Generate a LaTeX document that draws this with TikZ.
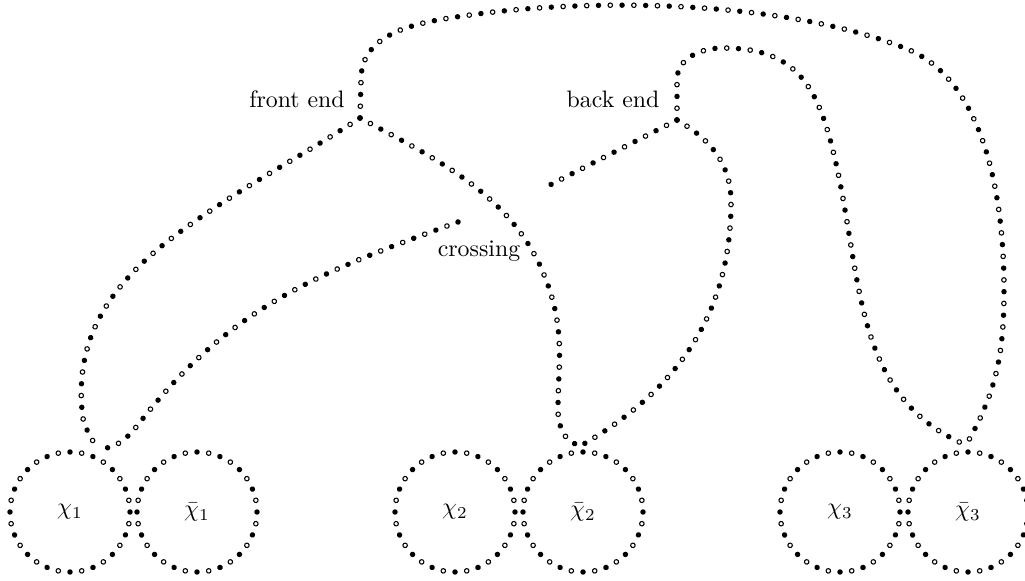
\documentclass[tikz,border=0pt]{standalone}
\usepackage{amsmath}
\usepackage{tikz}
\usetikzlibrary{decorations.markings}

\tikzset{
  beads/.style={
    postaction={decorate, decoration={markings,
      mark=between positions 0 and 1 step 9.9pt with {\fill (0,0) circle[radius=1.15pt];}}},
    postaction={decorate, decoration={markings,
      mark=between positions 4.95pt and 1 step 9.9pt with {\draw[line width=0.45pt] (0,0) circle[radius=0.95pt];}}}},
  ring/.style={
    postaction={decorate, decoration={markings,
      mark=between positions 0 and 0.99 step 0.0625 with {\fill (0,0) circle[radius=1.15pt];}}},
    postaction={decorate, decoration={markings,
      mark=between positions 0.03125 and 1 step 0.0625 with {\draw[line width=0.45pt] (0,0) circle[radius=0.95pt];}}}},
}

\begin{document}
\begin{tikzpicture}[x=0.42pt,y=0.42pt]
\useasboundingbox (0,0) rectangle (1025,580);
\coordinate (fe) at (360,462);
\coordinate (be) at (677,460);
\coordinate (m1) at (97,131);
\coordinate (m2) at (582,135);
\coordinate (m3) at (966,135);
\coordinate (c1) at (546,393);
\coordinate (c2) at (458,358);
% labels the rings
\node (x1) at (70,68) {$\chi_1$};
\node (y1) at (197,68) {$\bar{\chi}_1$};
\node (x2) at (455,68) {$\chi_2$};
\node (y2) at (583,68) {$\bar{\chi}_2$};
\node (x3) at (840,68) {$\chi_3$};
\node (y3) at (968,68) {$\bar{\chi}_3$};
% draws rings
\path[ring] (x1.center) circle[radius=60];
\path[ring] (y1.center) circle[radius=60];
\path[ring] (x2.center) circle[radius=60];
\path[ring] (y2.center) circle[radius=60];
\path[ring] (x3.center) circle[radius=60];
\path[ring] (y3.center) circle[radius=60];
% labels ends
\node (fl) at (297,481) {front end};
\node (bl) at (613,481) {back end};
\node (cl) at (479,329) {crossing};
% draws strands from the front end
\path[beads] (fe) -- (361,500) to[out=90,in=188] (470,565) to[out=8,in=158,looseness=0.75] (907,531) to[out=-22,in=90,looseness=0.85] (1004,291) to[out=-90,in=60] (m3);
\path[beads] (fe) to[out=-147,in=35] (191,356) to[out=-145,in=95] (82,170) to[out=-88,in=115] (m1);
\path[beads] (fe) to[out=-28,in=102] (556,266) to[out=-80,in=90] (558,170) to[out=-90,in=180] (m2);
% draws strands from the back end
\path[beads] (be) -- (677,500) to[out=90,in=180] (723,532) to[out=0,in=103,looseness=1.2] (835,421) to[out=-77,in=157] (m3);
\path[beads] (be) to[out=-30,in=90] (731,378) to[out=-90,in=30] (m2);
\path[beads] (be) -- (c1);
\path[beads] (c2) to[out=-160,in=52] (141,159) to[out=-128,in=0] (m1);
\end{tikzpicture}
\end{document}
